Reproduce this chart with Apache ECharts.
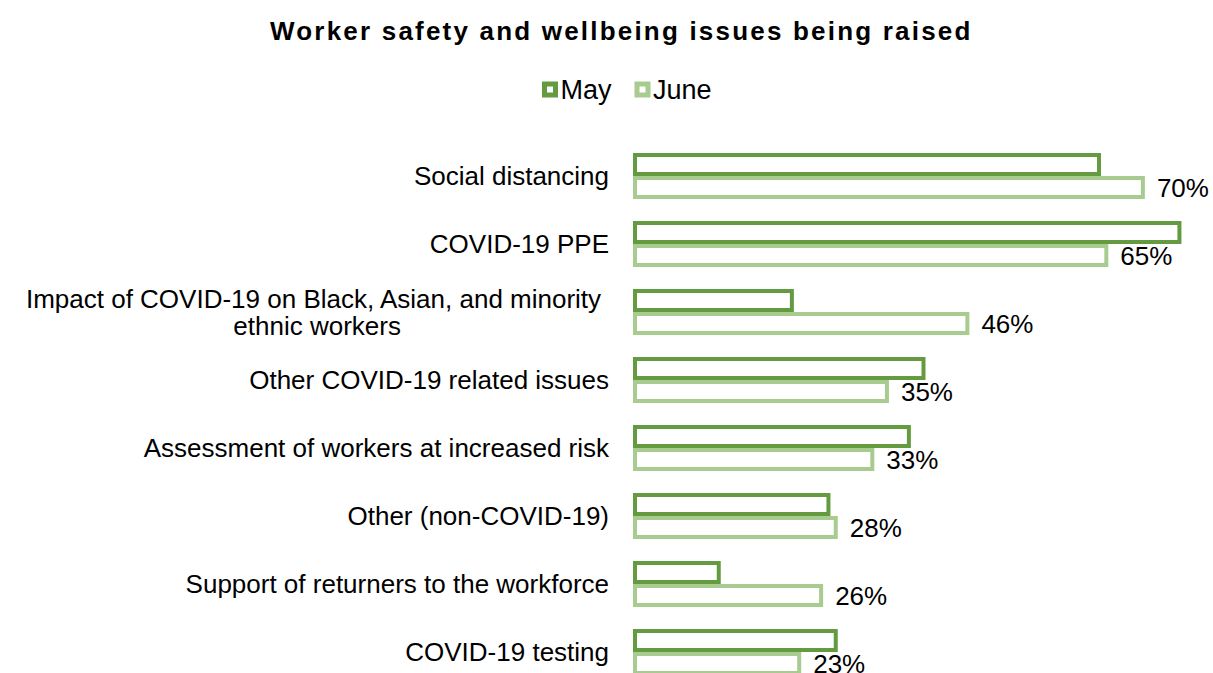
<!DOCTYPE html>
<html>
<head>
<meta charset="utf-8">
<script src="https://cdn.jsdelivr.net/npm/echarts@6/dist/echarts.min.js"></script>
<style>
  html, body { margin: 0; padding: 0; background: #fff; }
  #chart { width: 1213px; height: 673px; }
</style>
</head>
<body>
<div id="chart"></div>
<script>
  const titleText = 'Worker safety and wellbeing issues being raised';
  const categories = [
    'Social distancing',
    'COVID-19 PPE',
    'Impact of COVID-19 on Black, Asian, and minority \nethnic workers',
    'Other COVID-19 related issues',
    'Assessment of workers at increased risk',
    'Other (non-COVID-19)',
    'Support of returners to the workforce',
    'COVID-19 testing'
  ];
  const mayValues = [64, 75, 22, 40, 38, 27, 12, 28];
  const juneValues = [70, 65, 46, 35, 33, 28, 26, 23];

  const FONT = "'Liberation Sans', Arial, sans-serif";
  const MAY_COLOR = '#659b40';
  const JUNE_COLOR = '#a8cb8f';

  const chart = echarts.init(document.getElementById('chart'), null, { renderer: 'svg' });
  chart.setOption({
    animation: false,
    title: {
      text: titleText,
      left: 270,
      top: 18,
      padding: 0,
      textStyle: { fontFamily: FONT, fontSize: 26, fontWeight: 'bold', color: '#000' }
    },
    legend: {
      data: ['May', 'June'],
      top: 76,
      left: 542,
      padding: 0,
      icon: 'rect',
      itemWidth: 11,
      itemHeight: 11,
      itemGap: 23,
      textGap: 6,
      itemStyle: { borderWidth: 5 },
      textStyle: { fontFamily: FONT, fontSize: 27, color: '#000' }
    },
    grid: { left: 633, top: 142, width: 585, height: 544, outerBoundsMode: 'none', containLabel: false },
    xAxis: {
      type: 'value',
      min: 0,
      max: 80,
      show: false
    },
    yAxis: {
      type: 'category',
      inverse: true,
      data: categories,
      axisLine: { show: false },
      axisTick: { show: false },
      axisLabel: {
        margin: 24,
        fontFamily: FONT,
        fontSize: 26,
        color: '#000',
        lineHeight: 27,
        formatter: v => v.split('\n').map(s => '{c|' + s + '}').join('\n'),
        rich: { c: { align: 'center', fontFamily: FONT, fontSize: 26, color: '#000', lineHeight: 27 } }
      }
    },
    series: [
      {
        name: 'May',
        type: 'bar',
        data: mayValues,
        barWidth: 23,
        barGap: '0%',
        itemStyle: { color: '#fff', borderColor: MAY_COLOR, borderWidth: 4 }
      },
      {
        name: 'June',
        type: 'bar',
        data: juneValues,
        barWidth: 23,
        barGap: '0%',
        itemStyle: { color: '#fff', borderColor: JUNE_COLOR, borderWidth: 4 },
        label: {
          show: true,
          position: 'right',
          distance: 12,
          padding: [2, 0, 0, 0],
          formatter: '{c}%',
          fontFamily: FONT,
          fontSize: 26,
          color: '#000'
        }
      }
    ]
  });

  // the original title is set with expanded character spacing
  document.querySelectorAll('#chart svg text').forEach(t => {
    if (t.textContent === titleText) t.style.letterSpacing = '2.2px';
  });
</script>
</body>
</html>
